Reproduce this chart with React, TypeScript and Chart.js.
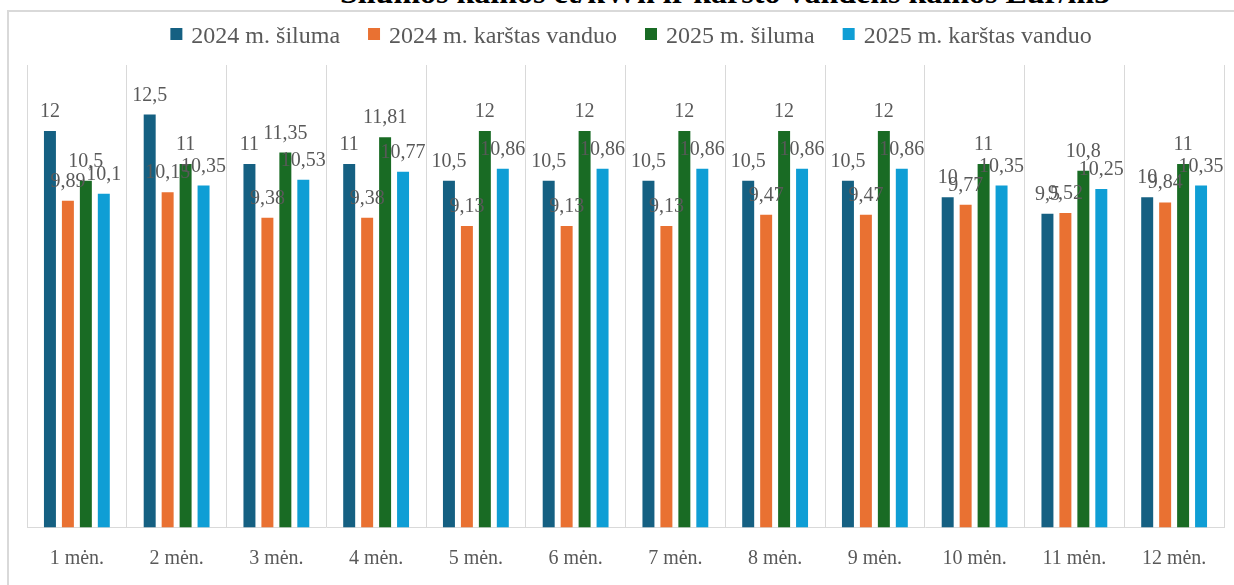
import React, { useEffect, useRef } from "react";
import { Chart, registerables } from "chart.js";

Chart.register(...registerables);

const categories = ["1 mėn.", "2 mėn.", "3 mėn.", "4 mėn.", "5 mėn.", "6 mėn.", "7 mėn.", "8 mėn.", "9 mėn.", "10 mėn.", "11 mėn.", "12 mėn."];
const heat2024 = [12, 12.5, 11, 11, 10.5, 10.5, 10.5, 10.5, 10.5, 10, 9.5, 10];
const water2024 = [9.89, 10.15, 9.38, 9.38, 9.13, 9.13, 9.13, 9.47, 9.47, 9.77, 9.52, 9.84];
const heat2025 = [10.5, 11, 11.35, 11.81, 12, 12, 12, 12, 12, 11, 10.8, 11];
const water2025 = [10.1, 10.35, 10.53, 10.77, 10.86, 10.86, 10.86, 10.86, 10.86, 10.35, 10.25, 10.35];
const seriesNames = ["2024 m. šiluma", "2024 m. karštas vanduo", "2025 m. šiluma", "2025 m. karštas vanduo"];
const seriesColors = ["#156082", "#E97132", "#196B24", "#0F9ED5"];
const titleText = "Šilumos kainos ct/kWh ir karšto vandens kainos Eur/m3";

const FONT = "'Liberation Serif', 'Times New Roman', serif";
const TEXT_COLOR = "#595959";

const fmt = (v: number) => String(v).replace(".", ",");

const labelsPlugin = {
  id: "valueLabels",
  afterDatasetsDraw(chart: any) {
    const ctx = chart.ctx;
    ctx.save();
    ctx.font = `20px ${FONT}`;
    ctx.fillStyle = TEXT_COLOR;
    ctx.textAlign = "center";
    ctx.textBaseline = "alphabetic";
    chart.data.datasets.forEach((ds: any, i: number) => {
      const meta = chart.getDatasetMeta(i);
      meta.data.forEach((el: any, j: number) => {
        ctx.fillText(fmt(ds.data[j]), el.x, el.y - 14);
      });
    });
    ctx.restore();
  },
};

const legendPlugin = {
  id: "customLegend",
  afterDraw(chart: any) {
    const ctx = chart.ctx;
    ctx.save();
    ctx.font = `24px ${FONT}`;
    const box = 12;
    const boxGap = 9;
    const itemGap = 28;
    const widths = chart.data.datasets.map((ds: any) => box + boxGap + ctx.measureText(ds.label).width);
    const total = widths.reduce((a: number, b: number) => a + b, 0) + itemGap * (widths.length - 1);
    let x = 631 - total / 2;
    chart.data.datasets.forEach((ds: any, i: number) => {
      ctx.fillStyle = ds.backgroundColor;
      ctx.fillRect(x, 28, box, box);
      ctx.fillStyle = TEXT_COLOR;
      ctx.textAlign = "left";
      ctx.textBaseline = "alphabetic";
      ctx.fillText(ds.label, x + box + boxGap, 43);
      x += widths[i] + itemGap;
    });
    ctx.restore();
  },
};

export default function App() {
  const ref = useRef<HTMLCanvasElement | null>(null);
  useEffect(() => {
    if (!ref.current) return;
    const values = [heat2024, water2024, heat2025, water2025];
    const chart = new Chart(ref.current, {
      type: "bar",
      data: {
        labels: categories,
        datasets: values.map((d, i) => ({
          label: seriesNames[i],
          data: d,
          backgroundColor: seriesColors[i],
          borderWidth: 0,
          categoryPercentage: 0.72,
          barPercentage: 0.667,
        })),
      },
      options: {
        responsive: false,
        animation: false,
        layout: { padding: { top: 65, left: 27, right: 10, bottom: 9.5 } },
        plugins: {
          legend: { display: false },
          tooltip: { enabled: false },
          title: { display: false },
        },
        scales: {
          x: {
            grid: { display: true, offset: true, drawTicks: false, color: "#d9d9d9", lineWidth: 1 },
            border: { display: true, color: "#d9d9d9", width: 1 },
            ticks: { color: TEXT_COLOR, font: { family: FONT, size: 20 }, padding: 19.5, maxRotation: 0 },
          },
          y: {
            display: false,
            min: 0,
            max: 14,
          },
        },
      },
      plugins: [labelsPlugin, legendPlugin],
    });
    return () => chart.destroy();
  }, []);

  return (
    <div style={{ position: "fixed", left: 0, top: 0, width: 1234, height: 585, overflow: "hidden", background: "#fff" }}>
      <div
        style={{
          position: "absolute",
          left: 340,
          top: -24,
          font: `bold 32px ${FONT}`,
          lineHeight: "32px",
          color: "#000",
          whiteSpace: "nowrap",
        }}
      >
        {titleText}
      </div>
      <div
        style={{
          position: "absolute",
          left: 7,
          top: 10,
          width: 1240,
          height: 620,
          border: "2px solid #d9d9d9",
          boxSizing: "border-box",
        }}
      />
      <canvas ref={ref} width={1234} height={600} style={{ position: "absolute", left: 0, top: 0, width: 1234, height: 600 }} />
    </div>
  );
}
